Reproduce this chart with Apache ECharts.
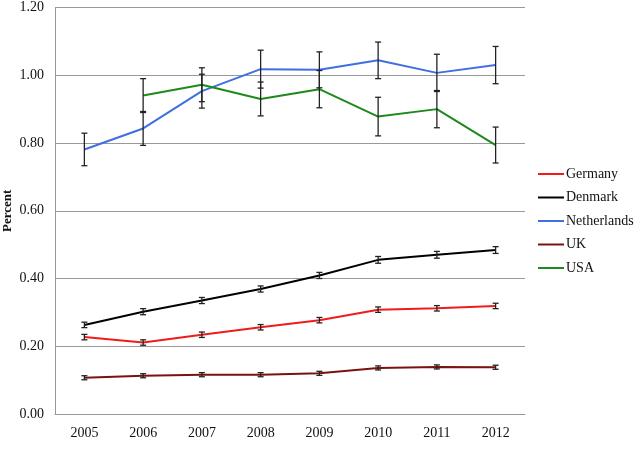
<!DOCTYPE html>
<html>
<head>
<meta charset="utf-8">
<script src="https://cdn.jsdelivr.net/npm/echarts@6/dist/echarts.min.js"></script>
<style>html,body{margin:0;padding:0;background:#fff}#c{width:638px;height:469px}</style>
</head>
<body>
<div id="c"></div>
<script>
var years = ['2005','2006','2007','2008','2009','2010','2011','2012'];
var germany     = [0.227, 0.211, 0.234, 0.256, 0.277, 0.308, 0.312, 0.319];
var germanyErr  = [0.008, 0.008, 0.008, 0.008, 0.008, 0.008, 0.008, 0.008];
var denmark     = [0.263, 0.302, 0.335, 0.369, 0.409, 0.455, 0.470, 0.484];
var denmarkErr  = [0.008, 0.009, 0.009, 0.009, 0.009, 0.010, 0.010, 0.010];
var netherlands = [0.781, 0.843, 0.953, 1.018, 1.016, 1.044, 1.007, 1.030];
var netherlandsErr = [0.048, 0.050, 0.050, 0.056, 0.053, 0.054, 0.055, 0.055];
var uk          = [0.107, 0.113, 0.116, 0.116, 0.120, 0.136, 0.139, 0.138];
var ukErr       = [0.006, 0.006, 0.006, 0.006, 0.006, 0.006, 0.006, 0.006];
var usa         = [null, 0.940, 0.972, 0.930, 0.959, 0.878, 0.900, 0.794];
var usaErr      = [null, 0.050, 0.050, 0.050, 0.055, 0.057, 0.055, 0.053];
var yTicks = [0, 0.2, 0.4, 0.6, 0.8, 1.0, 1.2];

var names = ['Germany','Denmark','Netherlands','UK','USA'];
var vals = [germany, denmark, netherlands, uk, usa];
var errs = [germanyErr, denmarkErr, netherlandsErr, ukErr, usaErr];
var colors = ['#ee1c1c', '#000000', '#3f6fe0', '#7a1212', '#1e8a1e'];
var FONT = 'Liberation Serif';

function errData(v, e) {
  var out = [];
  for (var i = 0; i < v.length; i++) {
    if (v[i] == null) continue;
    out.push([i, v[i] - e[i], v[i] + e[i]]);
  }
  return out;
}
function renderErr(params, api) {
  var x = api.value(0);
  var lo = api.coord([x, api.value(1)]);
  var hi = api.coord([x, api.value(2)]);
  var w = 3;
  var st = { stroke: '#222', lineWidth: 1.3 };
  return {
    type: 'group',
    children: [
      { type: 'line', shape: { x1: hi[0], y1: hi[1], x2: lo[0], y2: lo[1] }, style: st },
      { type: 'line', shape: { x1: hi[0] - w, y1: hi[1], x2: hi[0] + w, y2: hi[1] }, style: st },
      { type: 'line', shape: { x1: lo[0] - w, y1: lo[1], x2: lo[0] + w, y2: lo[1] }, style: st }
    ]
  };
}

var series = [];
for (var k = 0; k < names.length; k++) {
  series.push({
    name: names[k], type: 'line', data: vals[k], symbol: 'none',
    lineStyle: { color: colors[k], width: 2 }, itemStyle: { color: colors[k] },
    z: 2, animation: false
  });
}
for (var k = 0; k < names.length; k++) {
  series.push({
    name: names[k] + ' err', type: 'custom', renderItem: renderErr,
    data: errData(vals[k], errs[k]), z: 3, animation: false, silent: true
  });
}

var chart = echarts.init(document.getElementById('c'));
chart.setOption({
  backgroundColor: '#fff',
  animation: false,
  grid: { left: 55, right: 113, top: 7.5, bottom: 55, containLabel: false, outerBoundsMode: 'none' },
  xAxis: {
    type: 'category', data: years, boundaryGap: true,
    axisLine: { lineStyle: { color: '#999', width: 1 } },
    axisTick: { show: false },
    axisLabel: { color: '#111', fontFamily: FONT, fontSize: 14, margin: 12 }
  },
  yAxis: {
    type: 'value', min: 0, max: 1.2, interval: 0.2,
    name: 'Percent', nameLocation: 'middle', nameGap: 41, nameRotate: 90, nameMoveOverlap: false,
    nameTextStyle: { color: '#111', fontFamily: FONT, fontSize: 13, fontWeight: 'bold' },
    axisLine: { show: true, lineStyle: { color: '#999', width: 1 } },
    axisTick: { show: false },
    splitLine: { lineStyle: { color: '#999', width: 1 } },
    axisLabel: { color: '#111', fontFamily: FONT, fontSize: 14, margin: 11,
      formatter: function (v) { return v.toFixed(2); } }
  },
  legend: {
    data: names, orient: 'vertical', left: 533, top: 167,
    itemWidth: 26, itemHeight: 12, itemGap: 9.5,
    textStyle: { color: '#111', fontFamily: FONT, fontSize: 14, padding: [0, 0, 0, -3], lineHeight: 12 },
    padding: [0, 0, 0, 5],
    icon: 'path://M0,5 L26,5 L26,7 L0,7 Z'
  },
  series: series
});
</script>
</body>
</html>
